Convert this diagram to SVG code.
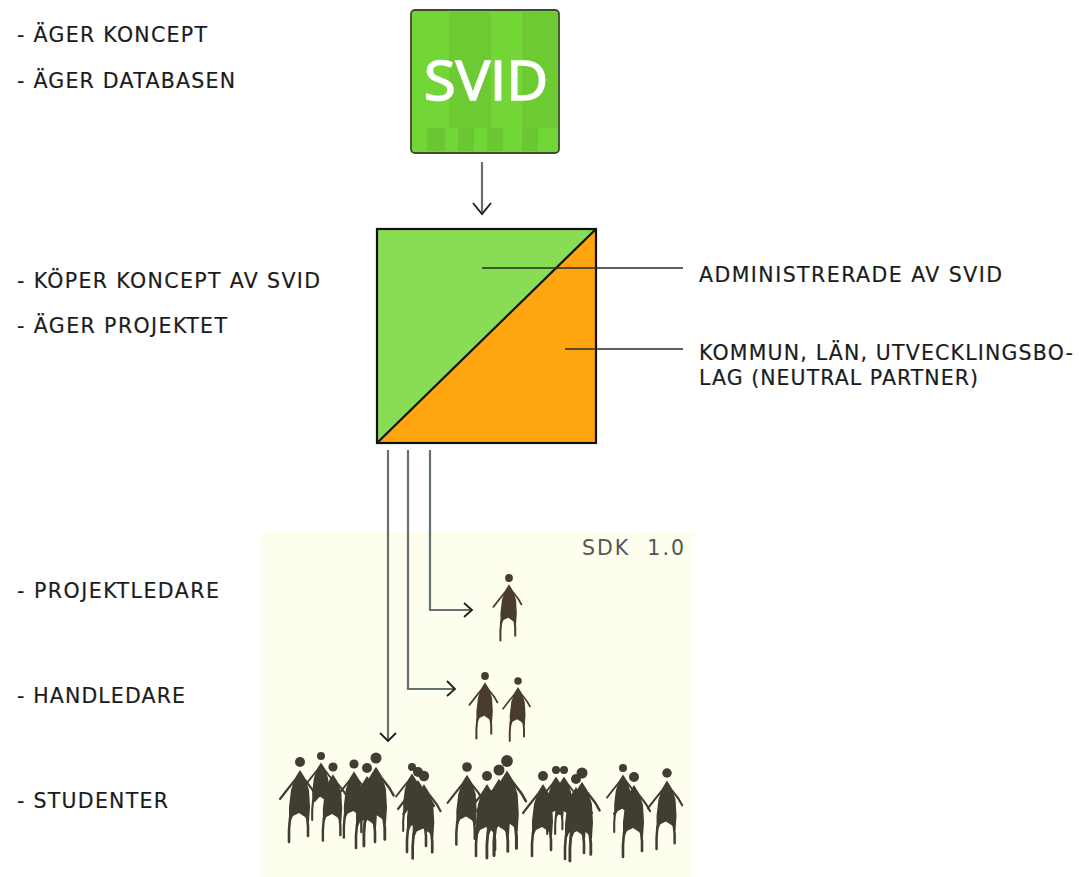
<svg xmlns="http://www.w3.org/2000/svg" xmlns:xlink="http://www.w3.org/1999/xlink" width="1079" height="877" viewBox="0 0 1079 877">
<style>
text{font-family:"DejaVu Sans",Verdana,sans-serif;font-size:20.5px;fill:#1c1c1c;stroke:#1c1c1c;stroke-width:.2}
.ln{fill:none;stroke:#2a2a2a;stroke-width:1.5}
.cn{fill:none;stroke:#64716e;stroke-width:2.2}
.ah{fill:none;stroke:#1e1e1e;stroke-width:1.8}
.dk{fill:#3f3e30;stroke:#3f3e30}
.br{fill:#4a3a2e;stroke:#4a3a2e}
</style>
<defs>
<filter id="soft" x="-5%" y="-5%" width="110%" height="110%"><feGaussianBlur stdDeviation="0.5"/></filter>
<g id="person">
<circle cx="0" cy="0" r="5" stroke="none"/>
<path stroke="none" d="M0 8 L5 16 L9 28 L10 45 L9 60 L5 55 L-1 51 L-7 54 L-11 63 L-11 45 L-9 28 L-5 16 Z"/>
<path fill="none" stroke-width="2.2" stroke-linecap="round" d="M-5 18 L-13 28 L-20 37 M5 18 L12 27 L16 34"/>
<path fill="none" stroke-width="2.6" stroke-linecap="round" d="M-10 56 L-11 68 L-11 80 M7 54 L8 64 L8 74"/>
</g>
</defs>
<rect width="1079" height="877" fill="#fff"/>
<rect id="sdk-bg" x="261" y="532" width="432" height="345" fill="#fefeee"/>
<g id="svid-logo">
<rect x="411" y="10" width="148" height="143" rx="4" fill="#72d636" stroke="#3a4a30" stroke-width="1.8"/>
<rect x="449" y="12" width="42" height="116" fill="#6dca32"/>
<rect x="522" y="12" width="36" height="116" fill="#6dca32"/>
<rect x="413" y="128" width="145" height="23" fill="#72d636"/>
<rect x="427" y="128" width="18" height="23" fill="#6ac631"/>
<rect x="458" y="128" width="16" height="23" fill="#6ac631"/>
<rect x="487" y="128" width="16" height="23" fill="#6ac631"/>
<rect x="522" y="128" width="16" height="23" fill="#6ac631"/>
<text x="424" y="100" textLength="124" lengthAdjust="spacingAndGlyphs" style="font-family:'Open Sans','Liberation Sans',sans-serif;font-size:54px;fill:#fff;stroke:#fff;stroke-width:1.6">SVID</text>
</g>
<g id="concept-square">
<rect x="377" y="229" width="219" height="214" fill="#88dd55"/>
<path d="M596 229 L596 443 L377 443 Z" fill="#ffa510"/>
<rect x="377" y="229" width="219" height="214" fill="none" stroke="#111" stroke-width="2.2"/>
<path d="M377 443 L596 229" fill="none" stroke="#111" stroke-width="2.2"/>
</g>
<g id="connectors">
<path class="cn" d="M482 162 V214"/><path class="ah" d="M473 203 L482 214 L491 203"/>
<path class="ln" d="M482 268 H683"/>
<path class="ln" d="M565 349 H683"/>
<path class="cn" d="M430 450 V610 H472"/><path class="ah" d="M464 603 L472 610 L464 617"/>
<path class="cn" d="M408 450 V689 H454"/><path class="ah" d="M447 681 L455 689 L447 696"/>
<path class="cn" d="M388 450 V741"/><path class="ah" d="M380 733 L388 741 L396 733"/>
</g>
<g id="labels">
<text x="17" y="42" textLength="190">- ÄGER KONCEPT</text>
<text x="17" y="88" textLength="218">- ÄGER DATABASEN</text>
<text x="17" y="288" textLength="303">- KÖPER KONCEPT AV SVID</text>
<text x="17" y="333" textLength="210">- ÄGER PROJEKTET</text>
<text x="17" y="598" textLength="202">- PROJEKTLEDARE</text>
<text x="17" y="703" textLength="168">- HANDLEDARE</text>
<text x="17" y="808" textLength="151">- STUDENTER</text>
<text x="699" y="282" textLength="303">ADMINISTRERADE AV SVID</text>
<text x="699" y="360" textLength="374">KOMMUN, LÄN, UTVECKLINGSBO-</text>
<text x="699" y="385" textLength="279">LAG (NEUTRAL PARTNER)</text>
<text x="582" y="555" textLength="102" style="fill:#555;stroke:none;white-space:pre">SDK  1.0</text>
</g>
<g id="people-leaders" class="br" filter="url(#soft)">
<use href="#person" transform="translate(509 578) scale(.78)"/>
<use href="#person" transform="translate(485 676) scale(.78)"/>
<use href="#person" transform="translate(518 681) scale(.75)"/>
</g>
<g id="people-students" class="dk" filter="url(#soft)">
<use href="#person" transform="translate(300 762)"/>
<use href="#person" transform="translate(321 756) scale(.8)"/>
<use href="#person" transform="translate(333 767) scale(.92)"/>
<use href="#person" transform="translate(354 764) scale(.92)"/>
<use href="#person" transform="translate(376 758) scale(1.1)"/>
<use href="#person" transform="translate(367 768) scale(1)"/>
<use href="#person" transform="translate(412 767) scale(.8)"/>
<use href="#person" transform="translate(418 772) scale(1)"/>
<use href="#person" transform="translate(424 776) scale(1.03)"/>
<use href="#person" transform="translate(467 767) scale(.97)"/>
<use href="#person" transform="translate(487 776) scale(1)"/>
<use href="#person" transform="translate(499 770) scale(1.1)"/>
<use href="#person" transform="translate(507 761) scale(1.18)"/>
<use href="#person" transform="translate(543 776) scale(1)"/>
<use href="#person" transform="translate(556 770) scale(.8)"/>
<use href="#person" transform="translate(564 770) scale(.8)"/>
<use href="#person" transform="translate(576 779) scale(1)"/>
<use href="#person" transform="translate(582 773) scale(1.1)"/>
<use href="#person" transform="translate(623 768) scale(.8)"/>
<use href="#person" transform="translate(634 777) scale(1)"/>
<use href="#person" transform="translate(667 773) scale(.95)"/>
</g>
</svg>
